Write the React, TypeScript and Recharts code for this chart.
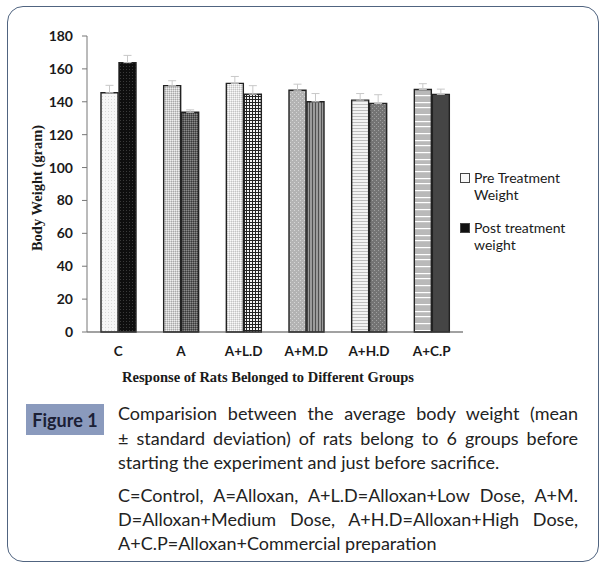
import React from "react";
import {
  BarChart,
  Bar,
  XAxis,
  YAxis,
  Cell,
  ErrorBar,
  Legend,
} from "recharts";

const groups = ["C", "A", "A+L.D", "A+M.D", "A+H.D", "A+C.P"];
const preWeight = [145.5, 149.8, 151.2, 147, 141, 147.5];
const postWeight = [163.8, 133.6, 144.6, 140, 139, 144.5];
const preSD = [4.5, 3, 4.2, 3.7, 4, 3.5];
const postSD = [4.4, 1.5, 5.2, 5, 5.3, 3.2];
const yTicks = [0, 20, 40, 60, 80, 100, 120, 140, 160, 180];

const prePatterns = ["p0", "p1", "p2", "p3", "p4", "p5"];
const postPatterns = ["q0", "q1", "q2", "q3", "q4", "q5"];

const data = groups.map((g, i) => ({
  group: g,
  pre: preWeight[i],
  post: postWeight[i],
  preErr: [0, preSD[i]],
  postErr: [0, postSD[i]],
}));

const sans = "Lato, 'Noto Sans', sans-serif";
const serif = "'Liberation Serif', 'DejaVu Serif', serif";

function Patterns() {
  return (
    <svg width={0} height={0} style={{ position: "absolute" }}>
      <defs>
        {/* pre treatment fills (lighter) */}
        <pattern id="p0" width="3" height="3" patternUnits="userSpaceOnUse">
          <rect width="3" height="3" fill="#f6f6f6" />
          <rect width="1" height="1" fill="#d8d8d8" />
        </pattern>
        <pattern id="p1" width="2" height="2" patternUnits="userSpaceOnUse">
          <rect width="2" height="2" fill="#cfcfcf" />
          <rect width="1" height="1" fill="#eeeeee" />
          <rect x="1" y="1" width="1" height="1" fill="#a9a9a9" />
        </pattern>
        <pattern id="p2" width="2" height="2" patternUnits="userSpaceOnUse">
          <rect width="2" height="2" fill="#e2e2e2" />
          <rect width="1" height="1" fill="#fafafa" />
          <rect x="1" y="1" width="1" height="1" fill="#c4c4c4" />
        </pattern>
        <pattern id="p3" width="4" height="4" patternUnits="userSpaceOnUse">
          <rect width="4" height="4" fill="#b3b3b3" />
          <rect width="1" height="1" fill="#d6d6d6" />
          <rect x="2" y="2" width="1" height="1" fill="#d6d6d6" />
        </pattern>
        <pattern id="p4" width="4" height="3" patternUnits="userSpaceOnUse">
          <rect width="4" height="3" fill="#f2f2f2" />
          <rect y="2" width="4" height="1" fill="#bdbdbd" />
        </pattern>
        <pattern id="p5" width="4" height="19" patternUnits="userSpaceOnUse">
          <rect width="4" height="19" fill="#b9b9b9" />
          <rect y="0" width="4" height="1.2" fill="#ffffff" />
          <rect y="7" width="4" height="1.2" fill="#ffffff" />
          <rect y="12" width="4" height="1.2" fill="#ffffff" />
        </pattern>
        {/* post treatment fills (darker) */}
        <pattern id="q0" width="3" height="3" patternUnits="userSpaceOnUse">
          <rect width="3" height="3" fill="#0e0e0e" />
          <rect width="1" height="1" fill="#3a3a3a" />
        </pattern>
        <pattern id="q1" width="2" height="2" patternUnits="userSpaceOnUse">
          <rect width="2" height="2" fill="#606060" />
          <rect width="1" height="1" fill="#8a8a8a" />
          <rect x="1" y="1" width="1" height="1" fill="#3a3a3a" />
        </pattern>
        <pattern id="q2" width="3" height="3" patternUnits="userSpaceOnUse">
          <rect width="3" height="3" fill="#f4f4f4" />
          <rect width="3" height="1" fill="#222222" />
          <rect width="1" height="3" fill="#222222" />
        </pattern>
        <pattern id="q3" width="3" height="3" patternUnits="userSpaceOnUse">
          <rect width="3" height="3" fill="#9c9c9c" />
          <rect width="1" height="3" fill="#505050" />
        </pattern>
        <pattern id="q4" width="4" height="4" patternUnits="userSpaceOnUse">
          <rect width="4" height="4" fill="#747474" />
          <rect width="1" height="1" fill="#a0a0a0" />
          <rect x="2" y="2" width="1" height="1" fill="#a0a0a0" />
        </pattern>
        <pattern id="q5" width="3" height="3" patternUnits="userSpaceOnUse">
          <rect width="3" height="3" fill="#454545" />
        </pattern>
      </defs>
    </svg>
  );
}

function LegendBox({ payload }: any) {
  const items = [...(payload || [])].sort((a: any, b: any) =>
    a.dataKey === "pre" ? -1 : b.dataKey === "pre" ? 1 : 0
  );
  return (
    <div style={{ fontFamily: sans, fontSize: 14, color: "#1a1a1a", lineHeight: "17px" }}>
      {items.map((entry: any, i: number) => {
        const words = String(entry.value).split(" ");
        const last = words.pop();
        const isPre = entry.dataKey === "pre";
        return (
          <div key={i} style={{ position: "relative", paddingLeft: 14, marginBottom: i === 0 ? 16 : 0 }}>
            <span
              style={{
                position: "absolute",
                left: 0,
                top: 4,
                width: 8,
                height: 8,
                background: isPre ? "#f8f8f8" : "#111",
                border: "1px solid #444",
              }}
            />
            <div>{words.join(" ")}</div>
            <div>{last}</div>
          </div>
        );
      })}
    </div>
  );
}

const lineJust: React.CSSProperties = {
  lineHeight: "24px",
  textAlign: "justify",
  textAlignLast: "justify",
  whiteSpace: "nowrap",
};
const lineLeft: React.CSSProperties = { lineHeight: "24px", whiteSpace: "nowrap" };

export default function App() {
  return (
    <div style={{ position: "absolute", left: 0, top: 0, width: 608, height: 568, background: "#fff" }}>
      <Patterns />
      <div
        style={{
          position: "absolute",
          left: 7,
          top: 6,
          width: 590,
          height: 554,
          border: "1.5px solid #506480",
          borderRadius: 16,
        }}
      />
      <div style={{ position: "absolute", left: 0, top: 0 }}>
        <BarChart
          width={608}
          height={400}
          data={data}
          margin={{ top: 36, right: 5, bottom: 38, left: 0 }}
          barSize={17}
          barGap={1}
        >
          <XAxis
            dataKey="group"
            height={30}
            tickLine={false}
            axisLine={{ stroke: "#444", strokeWidth: 1.2 }}
            tickMargin={8}
            tick={{ fontFamily: sans, fontSize: 13.5, fontWeight: 700, fill: "#1a1a1a" }}
            interval={0}
          />
          <YAxis
            width={87}
            domain={[0, 180]}
            ticks={yTicks}
            interval={0}
            tickSize={5}
            tickMargin={9}
            axisLine={{ stroke: "#777" }}
            tickLine={{ stroke: "#777" }}
            tick={{ fontFamily: sans, fontSize: 14, fontWeight: 700, fill: "#1a1a1a" }}
          />
          <Legend
            layout="vertical"
            align="right"
            verticalAlign="middle"
            content={<LegendBox />}
            wrapperStyle={{ position: "absolute", left: 460, top: 169, width: 140 }}
          />
          <Bar
            dataKey="pre"
            name="Pre Treatment Weight"
            stroke="#222"
            strokeWidth={1.4}
            fill="#f8f8f8"
            isAnimationActive={false}
          >
            {data.map((_, i) => (
              <Cell key={`pre-${i}`} fill={`url(#${prePatterns[i]})`} />
            ))}
            <ErrorBar dataKey="preErr" width={4} stroke="#c8c8c8" strokeWidth={1} isAnimationActive={false} />
          </Bar>
          <Bar
            dataKey="post"
            name="Post treatment weight"
            stroke="#222"
            strokeWidth={1.4}
            fill="#111"
            isAnimationActive={false}
          >
            {data.map((_, i) => (
              <Cell key={`post-${i}`} fill={`url(#${postPatterns[i]})`} />
            ))}
            <ErrorBar dataKey="postErr" width={4} stroke="#c8c8c8" strokeWidth={1} isAnimationActive={false} />
          </Bar>
        </BarChart>
      </div>
      <div
        style={{
          position: "absolute",
          left: 37,
          top: 188,
          transform: "translate(-50%, -50%) rotate(-90deg)",
          whiteSpace: "nowrap",
          fontFamily: serif,
          fontWeight: 700,
          fontSize: 14.5,
          color: "#1a1a1a",
        }}
      >
        Body Weight (gram)
      </div>
      <div
        style={{
          position: "absolute",
          left: 268,
          top: 377,
          transform: "translate(-50%, -50%)",
          whiteSpace: "nowrap",
          fontFamily: serif,
          fontWeight: 700,
          fontSize: 14.5,
          color: "#1a1a1a",
        }}
      >
        Response of Rats Belonged to Different Groups
      </div>
      <div
        style={{
          position: "absolute",
          left: 26,
          top: 404,
          width: 78,
          height: 31,
          background: "#8a9abd",
          fontFamily: sans,
          fontWeight: 700,
          fontSize: 18,
          color: "#1b2035",
          display: "flex",
          alignItems: "center",
          justifyContent: "center",
        }}
      >
        Figure 1
      </div>
      <div
        style={{
          position: "absolute",
          left: 118,
          top: 401,
          width: 460,
          fontFamily: sans,
          fontSize: 18,
          color: "#222",
        }}
      >
        <div style={{ ...lineJust, lineHeight: "25px" }}>
          Comparision between the average body weight (mean
        </div>
        <div style={lineJust}>± standard deviation) of rats belong to 6 groups before</div>
        <div style={lineLeft}>starting the experiment and just before sacrifice.</div>
        <div style={{ height: 9 }} />
        <div style={lineJust}>C=Control, A=Alloxan, A+L.D=Alloxan+Low Dose, A+M.</div>
        <div style={lineJust}>D=Alloxan+Medium Dose, A+H.D=Alloxan+High Dose,</div>
        <div style={lineLeft}>A+C.P=Alloxan+Commercial preparation</div>
      </div>
    </div>
  );
}
